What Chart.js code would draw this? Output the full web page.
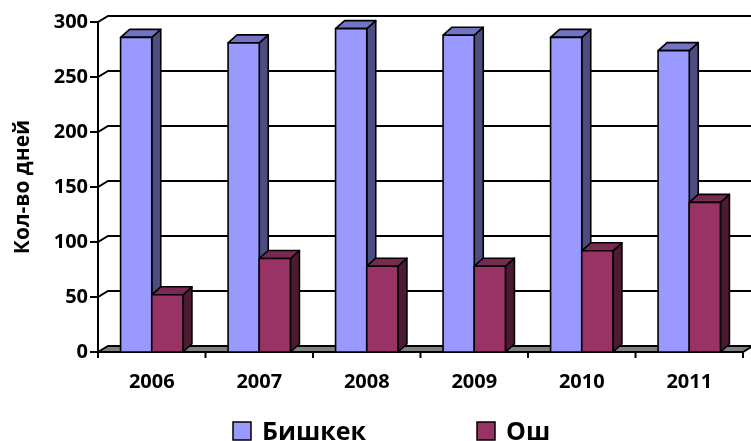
<!DOCTYPE html>
<html>
<head>
<meta charset="utf-8">
<script src="https://cdn.jsdelivr.net/npm/chart.js@4"></script>
<style>
  html, body { margin: 0; padding: 0; background: #fff; overflow: hidden; }
  #wrap { width: 751px; height: 441px; }
</style>
</head>
<body>
<div id="wrap"><canvas id="myChart" width="751" height="441"></canvas></div>
<script>
// data
var years = ['2006', '2007', '2008', '2009', '2010', '2011'];
var bishkek = [286, 281, 294, 288, 286, 274];
var osh = [52, 85, 78, 78, 92, 136];
var yTicks = [0, 50, 100, 150, 200, 250, 300];

var FONT = '"Open Sans", "DejaVu Sans", sans-serif';
// 3d look, in px
var WALL_DX = 10, WALL_DY = 6;
var BAR_DX = 9, BAR_DY = 8;

var faces = [
  { front: '#9999FF', top: '#7373C6', side: '#4D4D80' },
  { front: '#993366', top: '#7A2952', side: '#4D1A33' }
];

function poly(ctx, pts, fill) {
  ctx.beginPath();
  ctx.moveTo(pts[0][0], pts[0][1]);
  for (var i = 1; i < pts.length; i++) ctx.lineTo(pts[i][0], pts[i][1]);
  ctx.closePath();
  ctx.fillStyle = fill;
  ctx.fill();
  ctx.stroke();
}

var box3d = {
  id: 'box3d',
  beforeDatasetsDraw: function(chart) {
    var ctx = chart.ctx, a = chart.chartArea, y = chart.scales.y, x = chart.scales.x;
    var y0 = y.getPixelForValue(0);
    ctx.save();
    ctx.strokeStyle = '#000';
    ctx.lineWidth = 2;
    // floor
    poly(ctx, [[a.left, y0], [a.left + WALL_DX, y0 - WALL_DY], [a.right + WALL_DX, y0 - WALL_DY], [a.right, y0]], '#808080');
    // back wall grid + ticks
    yTicks.forEach(function(v) {
      var py = y.getPixelForValue(v);
      ctx.beginPath();
      ctx.moveTo(a.left - 8, py);
      ctx.lineTo(a.left, py);
      if (v > 0) {
        ctx.lineTo(a.left + WALL_DX, py - WALL_DY);
        ctx.lineTo(a.right + WALL_DX, py - WALL_DY);
      }
      ctx.stroke();
    });
    // axes
    ctx.beginPath();
    ctx.moveTo(a.left, y.getPixelForValue(300));
    ctx.lineTo(a.left, y0);
    ctx.lineTo(a.right, y0);
    ctx.stroke();
    // category ticks
    var w = (a.right - a.left) / years.length;
    for (var i = 0; i <= years.length; i++) {
      var px = a.left + i * w;
      ctx.beginPath();
      ctx.moveTo(px, y0);
      ctx.lineTo(px, y0 + 6);
      ctx.stroke();
    }
    ctx.restore();
  },
  beforeDatasetDraw: function() {
    return false;
  },
  afterDatasetsDraw: function(chart) {
    var ctx = chart.ctx;
    ctx.save();
    ctx.strokeStyle = '#000';
    ctx.lineWidth = 1.6;
    ctx.lineJoin = 'round';
    for (var i = 0; i < years.length; i++) {
      chart.data.datasets.forEach(function(ds, d) {
        var bar = chart.getDatasetMeta(d).data[i];
        var p = bar.getProps(['x', 'y', 'base', 'width'], true);
        var l = p.x - p.width / 2, r = p.x + p.width / 2;
        var c = faces[d];
        poly(ctx, [[r, p.y], [r + BAR_DX, p.y - BAR_DY], [r + BAR_DX, p.base - BAR_DY], [r, p.base]], c.side);
        poly(ctx, [[l, p.y], [l + BAR_DX, p.y - BAR_DY], [r + BAR_DX, p.y - BAR_DY], [r, p.y]], c.top);
        poly(ctx, [[l, p.y], [r, p.y], [r, p.base], [l, p.base]], c.front);
      });
    }
    ctx.restore();
  },
  afterDraw: function(chart) {
    // legend
    var ctx = chart.ctx;
    var xs = [233, 477];
    ctx.save();
    ctx.font = 'bold 25px ' + FONT;
    ctx.textBaseline = 'alphabetic';
    ctx.textAlign = 'left';
    chart.data.datasets.forEach(function(ds, d) {
      ctx.fillStyle = ds.backgroundColor;
      ctx.strokeStyle = '#000';
      ctx.lineWidth = 1.5;
      ctx.fillRect(xs[d], 422, 18, 18);
      ctx.strokeRect(xs[d], 422, 18, 18);
      ctx.fillStyle = '#000';
      ctx.fillText(ds.label, xs[d] + 29, 440);
    });
    ctx.restore();
  }
};

document.addEventListener('DOMContentLoaded', function() {
  var ctx = document.getElementById('myChart').getContext('2d');
  new Chart(ctx, {
    type: 'bar',
    data: {
      labels: years,
      datasets: [
        { label: 'Бишкек', data: bishkek, backgroundColor: faces[0].front },
        { label: 'Ош', data: osh, backgroundColor: faces[1].front }
      ]
    },
    options: {
      responsive: false,
      animation: false,
      layout: { padding: { top: 22, right: 8, left: 0, bottom: 0 } },
      datasets: { bar: { categoryPercentage: 0.58, barPercentage: 1 } },
      plugins: { legend: { display: false }, tooltip: { enabled: false } },
      scales: {
        x: {
          grid: { display: false, drawTicks: false },
          border: { display: false },
          ticks: { color: '#000', padding: 18, font: { family: FONT, size: 20, weight: 'bold' } },
          afterFit: function(s) { s.height = 89; }
        },
        y: {
          min: 0,
          max: 300,
          afterBuildTicks: function(s) { s.ticks = yTicks.map(function(v) { return { value: v }; }); },
          grid: { display: false, drawTicks: false },
          border: { display: false },
          ticks: { color: '#000', padding: 10, font: { family: FONT, size: 20, weight: 'bold' } },
          title: {
            display: true,
            text: 'Кол-во дней',
            color: '#000',
            padding: { top: 10, bottom: 0 },
            font: { family: FONT, size: 21, weight: 'bold' }
          },
          afterFit: function(s) { s.width = 98; }
        }
      }
    },
    plugins: [box3d]
  });
});
</script>
</body>
</html>
